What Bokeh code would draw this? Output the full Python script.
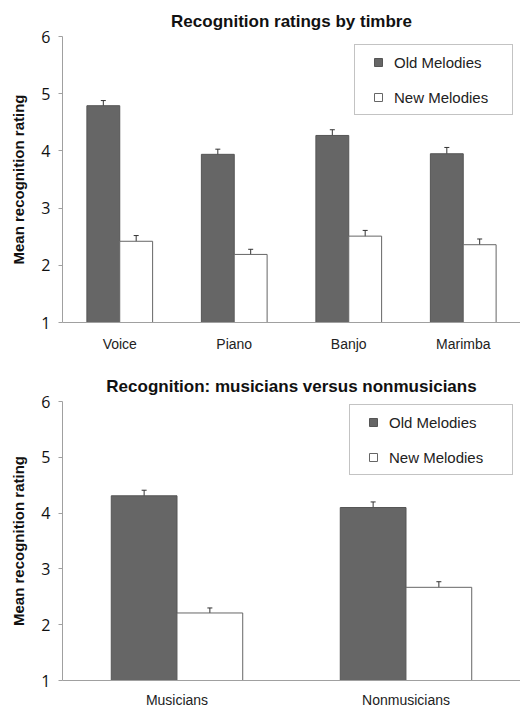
from bokeh.plotting import figure
from bokeh.models import ColumnDataSource, Legend, LegendItem, Whisker, TeeHead, Title
from bokeh.transform import dodge
from bokeh.layouts import column
from bokeh.embed import file_html
from bokeh.resources import INLINE

# ---- data ----
timbres = ["Voice", "Piano", "Banjo", "Marimba"]
timbre_old = [4.79, 3.94, 4.27, 3.95]
timbre_new = [2.42, 2.19, 2.51, 2.36]
timbre_old_err = [0.09, 0.09, 0.10, 0.11]
timbre_new_err = [0.10, 0.09, 0.10, 0.10]

groups = ["Musicians", "Nonmusicians"]
group_old = [4.31, 4.10]
group_new = [2.21, 2.67]
group_old_err = [0.10, 0.10]
group_new_err = [0.09, 0.10]

y_ticks = [1, 2, 3, 4, 5, 6]
series_labels = ["Old Melodies", "New Melodies"]

DARK = "#666666"
SANS = "Liberation Sans"
NUM = "Open Sans"
BW = 0.287
OFF = 0.1435


def make_chart(title, cats, old, new, old_err, new_err, height, border_top,
               border_bottom, legend_loc, label_width, x_standoff):
    src = ColumnDataSource(dict(
        cat=cats, old=old, new=new,
        old_lo=[v - e for v, e in zip(old, old_err)],
        old_hi=[v + e for v, e in zip(old, old_err)],
        new_lo=[v - e for v, e in zip(new, new_err)],
        new_hi=[v + e for v, e in zip(new, new_err)],
    ))
    p = figure(x_range=cats, y_range=(1, 6), width=520, height=height,
               output_backend="svg", toolbar_location=None,
               min_border_left=62, min_border_right=0,
               min_border_top=border_top, min_border_bottom=border_bottom)
    p.title = Title(text=title, align="center", text_font=SANS,
                    text_font_size="17px", text_font_style="bold",
                    text_color="#111111", vertical_align="middle")
    p.outline_line_color = None
    p.grid.visible = False
    p.background_fill_color = "white"
    p.border_fill_color = "white"

    p.vbar(x=dodge("cat", -OFF, range=p.x_range), top="old", bottom=1,
           width=BW, source=src, fill_color=DARK, line_color="#555555",
           line_width=1)
    p.vbar(x=dodge("cat", OFF, range=p.x_range), top="new", bottom=1,
           width=BW, source=src, fill_color="white", line_color="#666666",
           line_width=1)

    for off, lo, hi in ((-OFF, "old_lo", "old_hi"), (OFF, "new_lo", "new_hi")):
        w = Whisker(base=dodge("cat", off, range=p.x_range), lower=lo, upper=hi,
                    source=src, line_color="#333333", line_width=1,
                    upper_head=TeeHead(size=5, line_color="#333333", line_width=1),
                    lower_head=TeeHead(size=5, line_color="#333333", line_width=1))
        p.add_layout(w)

    # legend swatches (proxy renderers placed below the visible y range)
    sq_old = p.scatter(x=[cats[0]], y=[0], marker="square", size=8,
                       fill_color=DARK, line_color="#555555")
    sq_new = p.scatter(x=[cats[0]], y=[0], marker="square", size=8,
                       fill_color="white", line_color="#666666")
    legend = Legend(items=[LegendItem(label=series_labels[0], renderers=[sq_old]),
                           LegendItem(label=series_labels[1], renderers=[sq_new])],
                    location=legend_loc, orientation="vertical",
                    padding=7, spacing=15, margin=0,
                    glyph_width=32, glyph_height=20, label_height=20,
                    label_width=label_width, label_standoff=0,
                    label_text_font=SANS, label_text_font_size="15px",
                    label_text_color="#222222",
                    border_line_color="#888888", border_line_width=1,
                    background_fill_alpha=1)
    p.add_layout(legend, "center")

    ya = p.yaxis[0]
    ya.ticker = y_ticks
    ya.axis_line_color = "#a0a0a0"
    ya.major_tick_line_color = "#a0a0a0"
    ya.major_tick_out = 4
    ya.major_tick_in = 0
    ya.minor_tick_line_color = None
    ya.major_label_standoff = 8
    ya.major_label_text_font = NUM
    ya.major_label_text_font_size = "16px"
    ya.major_label_text_color = "#111111"
    ya.axis_label = "Mean recognition rating"
    ya.axis_label_text_font = SANS
    ya.axis_label_text_font_size = "15px"
    ya.axis_label_text_font_style = "bold"
    ya.axis_label_text_color = "#111111"
    ya.axis_label_standoff = 11

    xa = p.xaxis[0]
    xa.axis_line_color = "#a0a0a0"
    xa.major_tick_line_color = None
    xa.minor_tick_line_color = None
    xa.major_label_standoff = x_standoff
    xa.major_label_text_font = SANS
    xa.major_label_text_font_size = "14px"
    xa.major_label_text_color = "#222222"
    return p


p1 = make_chart("Recognition ratings by timbre", timbres, timbre_old, timbre_new,
                timbre_old_err, timbre_new_err, height=355, border_top=36,
                border_bottom=33, legend_loc=(292, 207), label_width=111,
                x_standoff=7)
p2 = make_chart("Recognition: musicians versus nonmusicians", groups, group_old,
                group_new, group_old_err, group_new_err, height=355,
                border_top=46, border_bottom=23, legend_loc=(287, 205),
                label_width=116, x_standoff=5)

layout = column(p1, p2, spacing=0)
open("out.html", "w").write(file_html(layout, INLINE))
